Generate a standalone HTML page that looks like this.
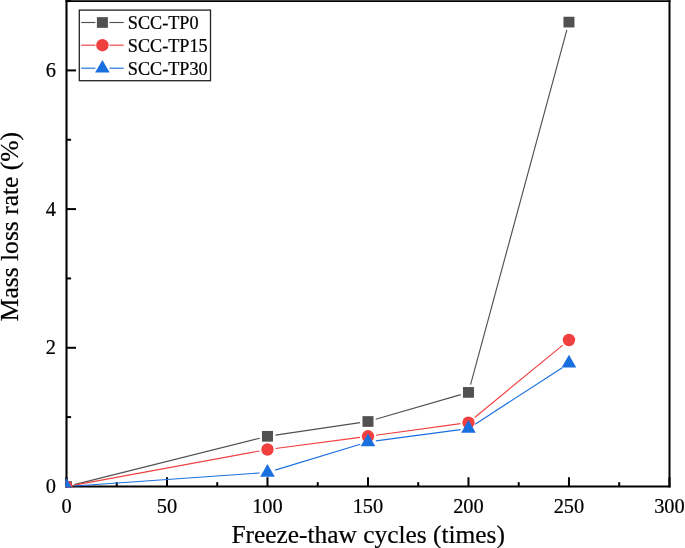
<!DOCTYPE html>
<html lang="en">
<head>
<meta charset="utf-8">
<title>Mass loss rate vs freeze-thaw cycles</title>
<style>
html,body{margin:0;padding:0;background:#fff;}
body{width:685px;height:548px;overflow:hidden;}
svg{display:block;will-change:transform;transform:translateZ(0);}
text{font-family:"Liberation Serif","Times New Roman",serif;fill:#000;stroke:#000;stroke-width:0.22px;}
.tick{font-size:20.4px;}
.axl{font-size:25.4px;}
.leg{font-size:18.2px;}
</style>
</head>
<body>
<svg width="685" height="548" viewBox="0 0 685 548">
<rect x="0" y="0" width="685" height="548" fill="#ffffff"/>
<defs><clipPath id="plotclip"><rect x="65.45" y="0" width="605.1" height="487.6"/></clipPath></defs>
<!-- axes frame -->
<g stroke="#000" fill="none">
<line x1="65.45" y1="1.15" x2="670.5" y2="1.15" stroke-width="1.86"/>
<line x1="65.45" y1="486.55" x2="670.5" y2="486.55" stroke-width="2.1"/>
<line x1="66.5" y1="0.22" x2="66.5" y2="487.6" stroke-width="2.1"/>
<line x1="669.5" y1="0.22" x2="669.5" y2="487.6" stroke-width="2"/>
</g>
<!-- x ticks -->
<g stroke="#000" stroke-width="2">
<line x1="66.5" y1="486.55" x2="66.5" y2="477.25"/>
<line x1="116.75" y1="486.55" x2="116.75" y2="482.15"/>
<line x1="166.99" y1="486.55" x2="166.99" y2="477.25"/>
<line x1="217.24" y1="486.55" x2="217.24" y2="482.15"/>
<line x1="267.48" y1="486.55" x2="267.48" y2="477.25"/>
<line x1="317.73" y1="486.55" x2="317.73" y2="482.15"/>
<line x1="367.98" y1="486.55" x2="367.98" y2="477.25"/>
<line x1="418.22" y1="486.55" x2="418.22" y2="482.15"/>
<line x1="468.47" y1="486.55" x2="468.47" y2="477.25"/>
<line x1="518.71" y1="486.55" x2="518.71" y2="482.15"/>
<line x1="568.96" y1="486.55" x2="568.96" y2="477.25"/>
<line x1="619.2" y1="486.55" x2="619.2" y2="482.15"/>
<line x1="669.45" y1="486.55" x2="669.45" y2="477.25"/>
</g>
<!-- y ticks -->
<g stroke="#000" stroke-width="2">
<line x1="66.5" y1="417.11" x2="71.1" y2="417.11"/>
<line x1="66.5" y1="347.77" x2="76" y2="347.77"/>
<line x1="66.5" y1="278.43" x2="71.1" y2="278.43"/>
<line x1="66.5" y1="209.09" x2="76" y2="209.09"/>
<line x1="66.5" y1="139.75" x2="71.1" y2="139.75"/>
<line x1="66.5" y1="70.41" x2="76" y2="70.41"/>
<line x1="66.5" y1="1.07" x2="71.1" y2="1.07"/>
</g>
<!-- tick labels -->
<g class="tick" text-anchor="middle">
<text x="66.5" y="512.6">0</text>
<text x="166.99" y="512.6">50</text>
<text x="267.48" y="512.6">100</text>
<text x="367.98" y="512.6">150</text>
<text x="468.47" y="512.6">200</text>
<text x="568.96" y="512.6">250</text>
<text x="669.45" y="512.6">300</text>
</g>
<g class="tick" text-anchor="end">
<text x="56" y="493.05">0</text>
<text x="56" y="354.37">2</text>
<text x="56" y="215.69">4</text>
<text x="56" y="77.01">6</text>
</g>
<!-- axis titles -->
<text class="axl" x="368.2" y="542.55" text-anchor="middle">Freeze-thaw cycles (times)</text>
<text class="axl" style="font-size:25.55px" transform="translate(18.1,226.6) rotate(-90)" text-anchor="middle">Mass loss rate (%)</text>
<!-- data series -->
<g clip-path="url(#plotclip)">
<g stroke="#515151" stroke-width="1.15" fill="none">
<line x1="74.26" y1="484.66" x2="259.72" y2="438.24"/>
<line x1="275.4" y1="435.13" x2="360.06" y2="422.67"/>
<line x1="375.66" y1="419.27" x2="460.78" y2="394.63"/>
<line x1="470.56" y1="384.68" x2="566.86" y2="29.82"/>
</g>
<g>
<rect x="61" y="481.25" width="11" height="10.7" fill="#515151"/>
<rect x="261.98" y="430.95" width="11" height="10.7" fill="#515151"/>
<rect x="362.48" y="416.15" width="11" height="10.7" fill="#515151"/>
<rect x="462.97" y="387.05" width="11" height="10.7" fill="#515151"/>
<rect x="563.46" y="16.75" width="11" height="10.7" fill="#515151"/>
</g>
<g stroke="#F14040" stroke-width="1.15" fill="none">
<line x1="74.37" y1="485.15" x2="259.62" y2="450.95"/>
<line x1="275.42" y1="448.46" x2="360.04" y2="437.34"/>
<line x1="375.9" y1="435.22" x2="460.54" y2="423.68"/>
<line x1="474.65" y1="417.52" x2="562.78" y2="345.08"/>
</g>
<g>
<circle cx="66.5" cy="486.6" r="6.2" fill="#F14040"/>
<circle cx="267.48" cy="449.5" r="6.2" fill="#F14040"/>
<circle cx="367.98" cy="436.3" r="6.2" fill="#F14040"/>
<circle cx="468.47" cy="422.6" r="6.2" fill="#F14040"/>
<circle cx="568.96" cy="340" r="6.2" fill="#F14040"/>
</g>
<g stroke="#1A6FDF" stroke-width="1.15" fill="none">
<line x1="74.48" y1="486.04" x2="259.5" y2="472.96"/>
<line x1="275.14" y1="470.08" x2="360.32" y2="444.32"/>
<line x1="375.9" y1="440.93" x2="460.54" y2="429.57"/>
<line x1="475.18" y1="424.15" x2="562.25" y2="367.65"/>
</g>
<g>
<polygon points="66.5,478.13 73.8,490.83 59.2,490.83" fill="#1A6FDF"/>
<polygon points="267.48,463.93 274.78,476.63 260.18,476.63" fill="#1A6FDF"/>
<polygon points="367.98,433.53 375.28,446.23 360.68,446.23" fill="#1A6FDF"/>
<polygon points="468.47,420.03 475.77,432.73 461.17,432.73" fill="#1A6FDF"/>
<polygon points="568.96,354.83 576.26,367.53 561.66,367.53" fill="#1A6FDF"/>
</g>
</g>
<!-- legend -->
<rect x="79.3" y="10.1" width="131.2" height="70.6" fill="#fff" stroke="#222" stroke-width="1.3"/>
<g stroke="#515151" stroke-width="1.15"><line x1="81.2" y1="22.5" x2="95.4" y2="22.5"/><line x1="109.5" y1="22.5" x2="123.7" y2="22.5"/></g>
<rect x="96.9" y="17.15" width="11" height="10.7" fill="#515151"/>
<text class="leg" x="127.8" y="28.6">SCC-TP0</text>
<g stroke="#F14040" stroke-width="1.15"><line x1="81.2" y1="45.2" x2="95.4" y2="45.2"/><line x1="109.5" y1="45.2" x2="123.7" y2="45.2"/></g>
<circle cx="102.4" cy="45.2" r="6.2" fill="#F14040"/>
<text class="leg" x="127.8" y="51.65">SCC-TP15</text>
<g stroke="#1A6FDF" stroke-width="1.15"><line x1="81.2" y1="68.2" x2="95.4" y2="68.2"/><line x1="109.5" y1="68.2" x2="123.7" y2="68.2"/></g>
<polygon points="102.4,59.88 109.7,72.58 95.1,72.58" fill="#1A6FDF"/>
<text class="leg" x="127.8" y="75.05">SCC-TP30</text>
</svg>
</body>
</html>
